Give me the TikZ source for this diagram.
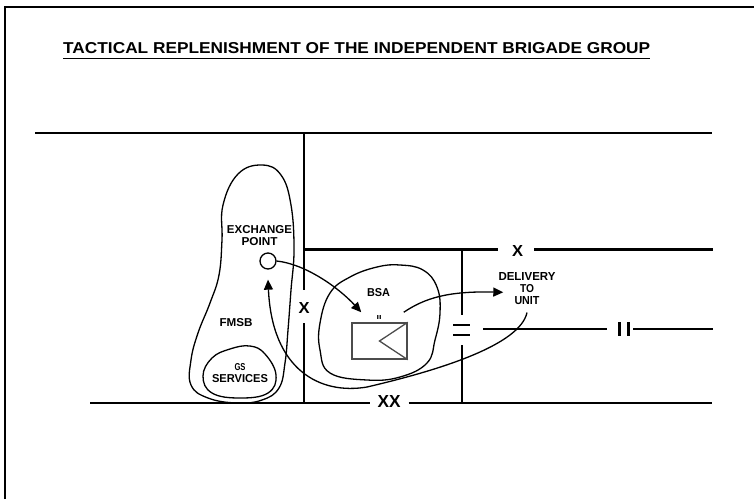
\documentclass[tikz,border=0pt]{standalone}
\usepackage{fontspec}
\setmainfont{Liberation Sans}
\usetikzlibrary{arrows.meta}
\newcommand{\fw}[3]{\resizebox{#1pt}{#2pt}{#3}}
\begin{document}
\begin{tikzpicture}[x=1pt,y=-1pt,
  bnd/.style={line width=2.4pt},
  outline/.style={line width=1.3pt},
  arr/.style={line width=1.3pt,-{Triangle[length=10pt,width=9pt]}},
  lbl/.style={inner sep=0pt,align=center,font=\fontsize{6}{12}\selectfont\bfseries},
  mk/.style={inner sep=0pt,font=\bfseries}
]
\useasboundingbox (0,0) rectangle (754,499);
% frame
\draw[line width=2.2pt] (5,499) -- (5,7) -- (754,7);
% title
\node[anchor=south west,inner sep=0pt,font=\bfseries] (title) at (63,54)
  {\fw{587}{11}{TACTICAL REPLENISHMENT OF THE INDEPENDENT BRIGADE GROUP}};
\draw[line width=1.8pt] ([yshift=-4.5pt]title.south west) -- ([yshift=-4.5pt]title.south east);

% coordinates for boundary lines
\coordinate (t1) at (35,133);
\coordinate (t2) at (712,133);
\coordinate (v1) at (304,133);
\coordinate (v2) at (304,403);
\coordinate (bl1) at (90,403);
\coordinate (bl2) at (712,403);
\coordinate (b1) at (304,249.5);
\coordinate (b2) at (713,249.5);
\coordinate (m1) at (483,329);
\coordinate (m2) at (713,329);

% echelon marks
\node[mk] (xa) at (304,307.5) {\fw{11}{11}{X}};
\node[mk] (xb) at (517.5,250.5) {\fw{11}{11}{X}};
\node[mk] (xx) at (389,401) {\fw{23}{12}{XX}};

% boundary lines
\draw[bnd] (t1) -- (t2);
\draw[bnd,shorten >=12pt] (v1) -- (xa.north);
\draw[bnd,shorten <=10pt] (xa.south) -- (v2);
\draw[bnd,shorten >=7pt] (bl1) -- (xx.west |- bl1);
\draw[bnd,shorten <=8pt] (xx.east |- bl1) -- (bl2);
\draw[bnd,shorten >=14pt] (b1) -- (xb.west |- b1);
\draw[bnd,shorten <=11pt] (xb.east |- b1) -- (b2);
% vertical boundary with battalion mark
\draw[bnd] (462,249.5) -- (462,315);
\draw[bnd] (462,345) -- (462,403);
\draw[line width=2.6pt] (453,325) -- (470,325);
\draw[line width=2.6pt] (453,335) -- (470,335);
% middle boundary with battalion mark
\draw[bnd] (m1) -- (607,329);
\draw[line width=2.8pt] (619.5,322) -- (619.5,336);
\draw[line width=2.8pt] (628.5,322) -- (628.5,336);
\draw[bnd] (633,329) -- (m2);

% FMSB area
\draw[outline] plot[smooth cycle,tension=0.7] coordinates {(262,165) (281,175) (291,205) (294,250) (291,290) (288,330) (285,363) (279,388) (262,400) (237,403) (208,398) (191,385) (191,360) (198,333) (210,303) (219,275) (222,240) (223,205) (238,174)};
% GS services area
\draw[outline] plot[smooth cycle,tension=0.7] coordinates {(230,349) (250,346) (265,354) (276,375) (268,393) (240,398) (212,393) (203,376) (212,358)};
% BSA area
\draw[outline] plot[smooth cycle,tension=0.7] coordinates {(400,265) (423,270) (437,287) (440,313) (435,340) (427,363) (400,377) (367,380) (330,373) (320,350) (320,323) (330,293) (350,277) (377,267)};

% labels
\node[lbl,anchor=north] (ept) at (259.5,225) {\fw{65}{8}{EXCHANGE}\\\fw{36}{8}{POINT}};
\node[lbl] (fmsb) at (236,323) {\fw{33}{8}{FMSB}};
\node[lbl,anchor=north] (gs) at (240,363) {\fw{11}{7}{GS}\\\fw{56}{8}{SERVICES}};
\node[lbl] (bsa) at (378.5,292.5) {\fw{23}{8}{BSA}};
\node[lbl,anchor=north] (del) at (527,272) {\fw{57}{8}{DELIVERY}\\\fw{14}{8}{TO}\\\fw{25}{8}{UNIT}};

% exchange point and unit
\node[draw,circle,line width=1.3pt,minimum size=16pt,inner sep=0pt] (ep) at (268,261) {};
\node[draw=black!70,line width=1.5pt,minimum width=55pt,minimum height=36pt,inner sep=0pt] (unit) at (379.5,341) {};
\draw[line width=1.3pt,black!70] (unit.north east) -- (unit.center) -- (unit.south east);
\node[lbl] (ech) at (379,317) {\fw{5}{4}{II}};

% arrows
\draw[arr] (ep.east) .. controls (305,264) and (338,287) .. ([shift={(10,-10)}]unit.north west);
\draw[arr] ([shift={(-4,-10)}]unit.north east) .. controls (425,298) and (448,291) .. ([shift={(5,4)}]del.west);
\draw[arr] ([yshift=-8pt]del.south) .. controls (520,345) and (440,370) .. (367,387) .. controls (320,395) and (272,370) .. ([yshift=-10pt]ep.south);
\end{tikzpicture}
\end{document}
